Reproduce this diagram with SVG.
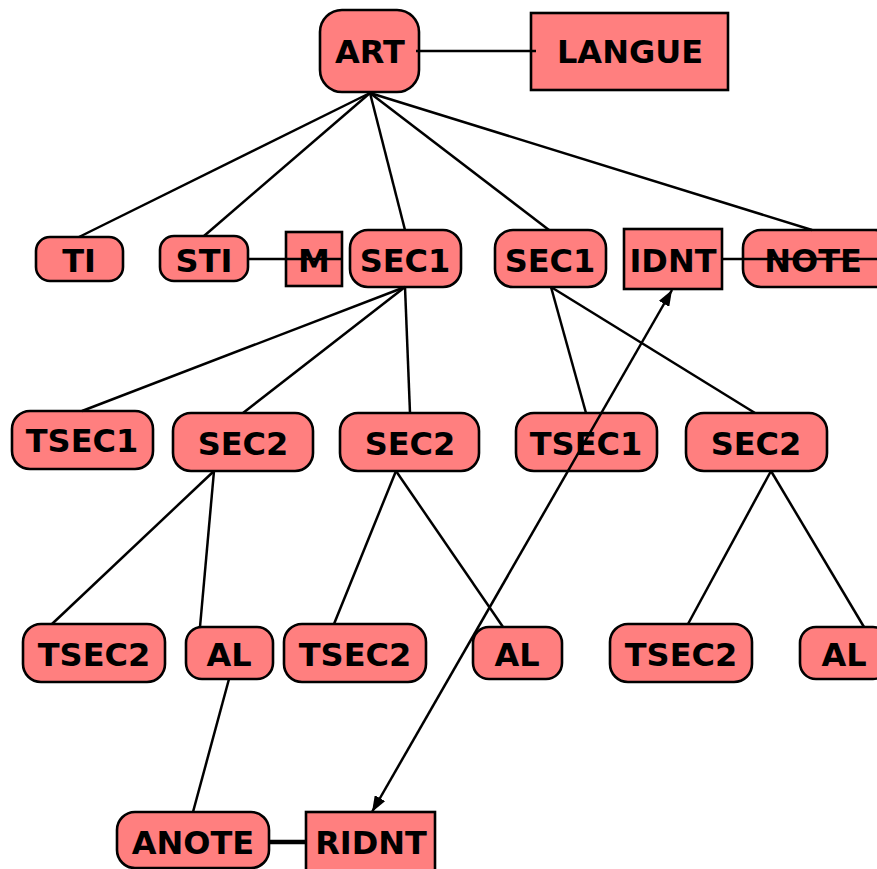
<svg xmlns="http://www.w3.org/2000/svg" width="877" height="869" viewBox="0 0 877 869">
<style>
.n{fill:#ff7f7f;stroke:#000;stroke-width:2.6}
.t{font-family:"DejaVu Sans",sans-serif;font-weight:bold;font-size:32px;text-anchor:middle;fill:#000}
.c{stroke:#000;stroke-width:2.5;fill:none}
</style>
<defs>
<marker id="ah" viewBox="0 0 16 12" refX="16" refY="6" markerWidth="16" markerHeight="12" markerUnits="userSpaceOnUse" orient="auto-start-reverse">
<path d="M0,0 L16,6 L0,12 Z" fill="#000"/>
</marker>
</defs>
<rect width="877" height="869" fill="#fff"/>
<g id="nodes">
<g id="ART"><rect class="n" x="320" y="10" width="99" height="82" rx="22"/><text class="t" x="370" y="63">ART</text></g>
<g id="LANGUE"><rect class="n" x="531" y="13" width="197" height="77"/><text class="t" x="630" y="63">LANGUE</text></g>
<g id="TI"><rect class="n" x="36" y="237" width="87" height="44" rx="14"/><text class="t" x="79" y="272">TI</text></g>
<g id="STI"><rect class="n" x="160" y="236" width="88" height="45" rx="14"/><text class="t" x="204" y="272">STI</text></g>
<g id="M"><rect class="n" x="286" y="232" width="56" height="54"/><text class="t" x="314" y="272">M</text></g>
<g id="SEC1a"><rect class="n" x="350" y="230" width="111" height="57" rx="18"/><text class="t" x="405" y="272">SEC1</text></g>
<g id="SEC1b"><rect class="n" x="495" y="230" width="111" height="57" rx="18"/><text class="t" x="550" y="272">SEC1</text></g>
<g id="IDNT"><rect class="n" x="624" y="229" width="98" height="60"/><text class="t" x="673" y="272">IDNT</text></g>
<g id="NOTE"><rect class="n" x="743" y="230" width="150" height="57" rx="18"/><text class="t" x="813" y="272">NOTE</text></g>
<g id="TSEC1a"><rect class="n" x="12" y="411" width="141" height="58" rx="18"/><text class="t" x="82" y="452">TSEC1</text></g>
<g id="SEC2a"><rect class="n" x="173" y="413" width="140" height="58" rx="18"/><text class="t" x="243" y="455">SEC2</text></g>
<g id="SEC2b"><rect class="n" x="340" y="413" width="139" height="58" rx="18"/><text class="t" x="410" y="455">SEC2</text></g>
<g id="TSEC1b"><rect class="n" x="516" y="413" width="141" height="58" rx="18"/><text class="t" x="586" y="455">TSEC1</text></g>
<g id="SEC2c"><rect class="n" x="686" y="413" width="141" height="58" rx="18"/><text class="t" x="756" y="455">SEC2</text></g>
<g id="TSEC2a"><rect class="n" x="23" y="624" width="142" height="58" rx="18"/><text class="t" x="94" y="666">TSEC2</text></g>
<g id="ALa"><rect class="n" x="186" y="627" width="87" height="52" rx="16"/><text class="t" x="229" y="666">AL</text></g>
<g id="TSEC2b"><rect class="n" x="284" y="624" width="142" height="58" rx="18"/><text class="t" x="355" y="666">TSEC2</text></g>
<g id="ALb"><rect class="n" x="473" y="627" width="89" height="52" rx="16"/><text class="t" x="517" y="666">AL</text></g>
<g id="TSEC2c"><rect class="n" x="610" y="624" width="142" height="58" rx="18"/><text class="t" x="681" y="666">TSEC2</text></g>
<g id="ALc"><rect class="n" x="800" y="627" width="89" height="52" rx="16"/><text class="t" x="844" y="666">AL</text></g>
<g id="ANOTE"><rect class="n" x="117" y="812" width="152" height="56" rx="18"/><text class="t" x="193" y="854">ANOTE</text></g>
<g id="RIDNT"><rect class="n" x="306" y="812" width="129" height="62"/><text class="t" x="371" y="854">RIDNT</text></g>
</g>
<g id="connectors">
<line class="c" x1="416" y1="51" x2="536" y2="51"/>
<line class="c" x1="370" y1="93" x2="79" y2="237"/>
<line class="c" x1="370" y1="93" x2="204" y2="236"/>
<line class="c" x1="370" y1="93" x2="405" y2="230"/>
<line class="c" x1="370" y1="93" x2="549" y2="230"/>
<line class="c" x1="370" y1="93" x2="812" y2="230"/>
<line class="c" x1="248" y1="259" x2="341" y2="259"/>
<line class="c" x1="722" y1="259" x2="877" y2="259"/>
<line class="c" x1="405" y1="287" x2="82" y2="411"/>
<line class="c" x1="405" y1="287" x2="243" y2="413"/>
<line class="c" x1="405" y1="287" x2="410" y2="413"/>
<line class="c" x1="551" y1="287" x2="586" y2="413"/>
<line class="c" x1="551" y1="287" x2="755" y2="413"/>
<line class="c" x1="214" y1="471" x2="52" y2="624"/>
<line class="c" x1="214" y1="471" x2="200" y2="627"/>
<line class="c" x1="396" y1="471" x2="334" y2="624"/>
<line class="c" x1="396" y1="471" x2="503" y2="627"/>
<line class="c" x1="771" y1="471" x2="688" y2="624"/>
<line class="c" x1="771" y1="471" x2="864" y2="627"/>
<line class="c" x1="229" y1="679" x2="193" y2="812"/>
<line class="c" x1="269" y1="842" x2="306" y2="842" style="stroke-width:4.5"/>
<line class="c" x1="672" y1="290" x2="372" y2="812" marker-start="url(#ah)" marker-end="url(#ah)"/>
</g>
</svg>
